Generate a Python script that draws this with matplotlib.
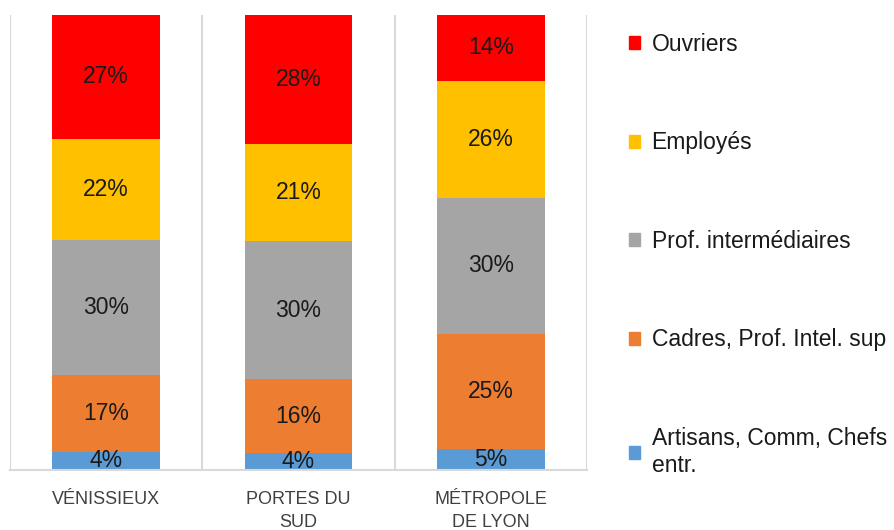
import matplotlib.pyplot as plt
from matplotlib.patches import Patch

plt.rcParams['font.family'] = ['Liberation Sans', 'DejaVu Sans']

# Données (en %)
territoires = ['VÉNISSIEUX', 'PORTES DU\nSUD', 'MÉTROPOLE\nDE LYON']
categories = ['Artisans, Comm, Chefs\nentr.', 'Cadres, Prof. Intel. sup',
              'Prof. intermédiaires', 'Employés', 'Ouvriers']
artisans = [4.0, 3.7, 4.6]
cadres = [16.9, 16.3, 25.3]
prof_inter = [29.7, 30.3, 29.9]
employes = [22.2, 21.3, 25.7]
ouvriers = [27.2, 28.4, 14.5]
couleurs = ['#5B9BD5', '#ED7D31', '#A5A5A5', '#FFC000', '#FF0000']

series = [artisans, cadres, prof_inter, employes, ouvriers]

fig = plt.figure(figsize=(8.94, 5.3), dpi=100)
ax = fig.add_axes([10 / 894, 1 - 470 / 530, 577 / 894, 455 / 530])

x = range(len(territoires))
bas = [0] * len(territoires)
for vals, col in zip(series, couleurs):
    barres = ax.bar(x, vals, bottom=bas, width=0.56, color=col)
    ax.bar_label(barres, labels=[f"{round(v)}%" for v in vals],
                 label_type='center', fontsize=16.5, color='#1a1a1a')
    bas = [b + v for b, v in zip(bas, vals)]

# Séparateurs verticaux entre les territoires
for pos in [-0.5, 0.5, 1.5, 2.5]:
    ax.axvline(pos, color='#d9d9d9', linewidth=1.5, zorder=0)

ax.set_xlim(-0.5, 2.5)
ax.set_ylim(0, 100)
ax.set_yticks([])
ax.set_xticks(list(x))
ax.set_xticklabels(territoires, fontsize=13, color='#404040', linespacing=1.5)
ax.tick_params(axis='x', length=0, pad=15)
for s in ['top', 'right', 'left']:
    ax.spines[s].set_visible(False)
ax.spines['bottom'].set_color('#d9d9d9')
ax.spines['bottom'].set_linewidth(1.5)

# Légende (ordre inversé : Ouvriers en haut)
handles = [Patch(color=c) for c in couleurs][::-1]
labels = categories[::-1]
ax.legend(handles, labels, loc='upper left', bbox_to_anchor=(608 / 894, 1 - 12 / 530),
          bbox_transform=fig.transFigure, frameon=False, fontsize=16.5,
          handlelength=0.5, handleheight=0.5, handletextpad=0.5,
          labelspacing=3.3, labelcolor='#1a1a1a')

plt.savefig('out.png', dpi=100)
